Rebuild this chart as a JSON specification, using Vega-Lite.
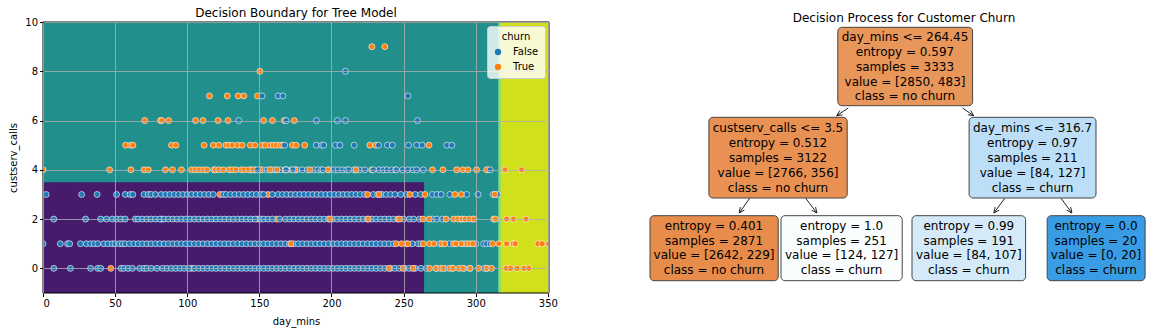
{
"$schema": "https://vega.github.io/schema/vega-lite/v6.json",
"padding": {"left": 8, "top": 7, "right": 0, "bottom": 6},
"background": "white",
"spacing": 91,
"resolve": {"legend": {"color": "independent"}, "scale": {"color": "independent", "x": "independent", "y": "independent"}},
"config": {
  "font": "DejaVu Sans",
  "view": {"stroke": null},
  "title": {"fontSize": 12, "fontWeight": "normal", "font": "DejaVu Sans", "color": "black", "offset": -3},
  "axis": {"labelFont": "DejaVu Sans", "titleFont": "DejaVu Sans", "labelFontSize": 10, "titleFontSize": 10, "titleFontWeight": "normal", "labelColor": "black", "titleColor": "black", "tickColor": "black", "domain": false, "tickSize": 3.5, "labelPadding": 2, "titlePadding": 8, "gridColor": "#b0b0b0", "gridWidth": 0.8, "gridOpacity": 1},
  "legend": {"titleFontSize": 10, "titleFontWeight": "normal", "titleColor": "black", "labelFontSize": 10, "labelColor": "black"}
},
"datasets": {
  "regions": [
    {"x1": 0, "x2": 315.6, "y1": -1, "y2": 10, "fill": "#21908d"},
    {"x1": 0, "x2": 264.2, "y1": -1, "y2": 3.5, "fill": "#471b6b"},
    {"x1": 315.6, "x2": 316.5, "y1": -1, "y2": 10, "fill": "#3dbc74"},
    {"x1": 316.5, "x2": 317.4, "y1": -1, "y2": 10, "fill": "#7ad151"},
    {"x1": 317.4, "x2": 350.8, "y1": -1, "y2": 10, "fill": "#d0e11c"}
  ],
  "points": [
    {"day_mins":7.5,"custserv_calls":0,"churn":"False"},{"day_mins":19,"custserv_calls":0,"churn":"False"},{"day_mins":33,"custserv_calls":0,"churn":"False"},{"day_mins":38,"custserv_calls":0,"churn":"False"},{"day_mins":40,"custserv_calls":0,"churn":"False"},{"day_mins":47,"custserv_calls":0,"churn":"True"},{"day_mins":103,"custserv_calls":0,"churn":"True"},{"day_mins":54,"custserv_calls":0,"churn":"False"},{"day_mins":56,"custserv_calls":0,"churn":"False"},{"day_mins":59,"custserv_calls":0,"churn":"False"},{"day_mins":62,"custserv_calls":0,"churn":"False"},{"day_mins":67,"custserv_calls":0,"churn":"False"},{"day_mins":70,"custserv_calls":0,"churn":"False"},{"day_mins":72,"custserv_calls":0,"churn":"False"},{"day_mins":75,"custserv_calls":0,"churn":"False"},{"day_mins":79,"custserv_calls":0,"churn":"False"},{"day_mins":83,"custserv_calls":0,"churn":"False"},{"day_mins":86,"custserv_calls":0,"churn":"False"},{"day_mins":89,"custserv_calls":0,"churn":"False"},{"day_mins":92,"custserv_calls":0,"churn":"False"},{"day_mins":95,"custserv_calls":0,"churn":"False"},{"day_mins":98,"custserv_calls":0,"churn":"False"},{"day_mins":101,"custserv_calls":0,"churn":"False"},{"day_mins":105,"custserv_calls":0,"churn":"False"},{"day_mins":108,"custserv_calls":0,"churn":"False"},{"day_mins":111,"custserv_calls":0,"churn":"False"},{"day_mins":114,"custserv_calls":0,"churn":"False"},{"day_mins":117,"custserv_calls":0,"churn":"False"},{"day_mins":120,"custserv_calls":0,"churn":"False"},{"day_mins":123,"custserv_calls":0,"churn":"False"},{"day_mins":126,"custserv_calls":0,"churn":"False"},{"day_mins":129,"custserv_calls":0,"churn":"False"},{"day_mins":132,"custserv_calls":0,"churn":"False"},{"day_mins":135,"custserv_calls":0,"churn":"False"},{"day_mins":138,"custserv_calls":0,"churn":"False"},{"day_mins":141,"custserv_calls":0,"churn":"False"},{"day_mins":144,"custserv_calls":0,"churn":"False"},{"day_mins":147,"custserv_calls":0,"churn":"False"},{"day_mins":150,"custserv_calls":0,"churn":"False"},{"day_mins":153,"custserv_calls":0,"churn":"False"},{"day_mins":156,"custserv_calls":0,"churn":"False"},{"day_mins":159,"custserv_calls":0,"churn":"False"},{"day_mins":162,"custserv_calls":0,"churn":"False"},{"day_mins":165,"custserv_calls":0,"churn":"False"},{"day_mins":168,"custserv_calls":0,"churn":"False"},{"day_mins":171,"custserv_calls":0,"churn":"False"},{"day_mins":174,"custserv_calls":0,"churn":"False"},{"day_mins":177,"custserv_calls":0,"churn":"False"},{"day_mins":180,"custserv_calls":0,"churn":"False"},{"day_mins":183,"custserv_calls":0,"churn":"False"},{"day_mins":186,"custserv_calls":0,"churn":"False"},{"day_mins":189,"custserv_calls":0,"churn":"False"},{"day_mins":192,"custserv_calls":0,"churn":"False"},{"day_mins":195,"custserv_calls":0,"churn":"False"},{"day_mins":198,"custserv_calls":0,"churn":"False"},{"day_mins":201,"custserv_calls":0,"churn":"False"},{"day_mins":204,"custserv_calls":0,"churn":"False"},{"day_mins":207,"custserv_calls":0,"churn":"False"},{"day_mins":210,"custserv_calls":0,"churn":"False"},{"day_mins":213,"custserv_calls":0,"churn":"False"},{"day_mins":216,"custserv_calls":0,"churn":"False"},{"day_mins":219,"custserv_calls":0,"churn":"False"},{"day_mins":222,"custserv_calls":0,"churn":"False"},{"day_mins":225,"custserv_calls":0,"churn":"False"},{"day_mins":228,"custserv_calls":0,"churn":"False"},{"day_mins":231,"custserv_calls":0,"churn":"False"},{"day_mins":234,"custserv_calls":0,"churn":"False"},{"day_mins":237,"custserv_calls":0,"churn":"False"},{"day_mins":241,"custserv_calls":0,"churn":"False"},{"day_mins":244,"custserv_calls":0,"churn":"False"},{"day_mins":247,"custserv_calls":0,"churn":"False"},{"day_mins":251,"custserv_calls":0,"churn":"False"},{"day_mins":254,"custserv_calls":0,"churn":"False"},{"day_mins":258,"custserv_calls":0,"churn":"False"},{"day_mins":262,"custserv_calls":0,"churn":"False"},{"day_mins":266,"custserv_calls":0,"churn":"False"},{"day_mins":273,"custserv_calls":0,"churn":"False"},{"day_mins":279,"custserv_calls":0,"churn":"False"},{"day_mins":284,"custserv_calls":0,"churn":"False"},{"day_mins":292,"custserv_calls":0,"churn":"False"},{"day_mins":296,"custserv_calls":0,"churn":"False"},{"day_mins":306,"custserv_calls":0,"churn":"False"},{"day_mins":308,"custserv_calls":0,"churn":"False"},
    {"day_mins":239.8,"custserv_calls":0,"churn":"True"},{"day_mins":249.6,"custserv_calls":0,"churn":"True"},{"day_mins":256.5,"custserv_calls":0,"churn":"True"},{"day_mins":268,"custserv_calls":0,"churn":"True"},{"day_mins":272.3,"custserv_calls":0,"churn":"True"},{"day_mins":275.8,"custserv_calls":0,"churn":"True"},{"day_mins":277.5,"custserv_calls":0,"churn":"True"},{"day_mins":282,"custserv_calls":0,"churn":"True"},{"day_mins":284.2,"custserv_calls":0,"churn":"True"},{"day_mins":288.4,"custserv_calls":0,"churn":"True"},{"day_mins":291,"custserv_calls":0,"churn":"True"},{"day_mins":296,"custserv_calls":0,"churn":"True"},{"day_mins":302,"custserv_calls":0,"churn":"True"},{"day_mins":307.5,"custserv_calls":0,"churn":"True"},{"day_mins":311,"custserv_calls":0,"churn":"True"},{"day_mins":321.2,"custserv_calls":0,"churn":"True"},{"day_mins":324.1,"custserv_calls":0,"churn":"True"},{"day_mins":328.6,"custserv_calls":0,"churn":"True"},{"day_mins":333.4,"custserv_calls":0,"churn":"True"},{"day_mins":336.8,"custserv_calls":0,"churn":"True"},
    {"day_mins":0,"custserv_calls":1,"churn":"False"},{"day_mins":12,"custserv_calls":1,"churn":"False"},{"day_mins":17,"custserv_calls":1,"churn":"False"},{"day_mins":18.5,"custserv_calls":1,"churn":"False"},{"day_mins":26,"custserv_calls":1,"churn":"False"},{"day_mins":30,"custserv_calls":1,"churn":"False"},{"day_mins":33,"custserv_calls":1,"churn":"False"},{"day_mins":35.5,"custserv_calls":1,"churn":"False"},{"day_mins":38,"custserv_calls":1,"churn":"False"},{"day_mins":42,"custserv_calls":1,"churn":"False"},{"day_mins":45,"custserv_calls":1,"churn":"False"},{"day_mins":48,"custserv_calls":1,"churn":"False"},{"day_mins":50,"custserv_calls":1,"churn":"False"},{"day_mins":53,"custserv_calls":1,"churn":"False"},{"day_mins":55,"custserv_calls":1,"churn":"False"},{"day_mins":57,"custserv_calls":1,"churn":"False"},{"day_mins":60,"custserv_calls":1,"churn":"False"},{"day_mins":63,"custserv_calls":1,"churn":"False"},{"day_mins":66,"custserv_calls":1,"churn":"False"},{"day_mins":69,"custserv_calls":1,"churn":"False"},{"day_mins":72,"custserv_calls":1,"churn":"False"},{"day_mins":75,"custserv_calls":1,"churn":"False"},{"day_mins":78,"custserv_calls":1,"churn":"False"},{"day_mins":81,"custserv_calls":1,"churn":"False"},{"day_mins":84,"custserv_calls":1,"churn":"False"},{"day_mins":87,"custserv_calls":1,"churn":"False"},{"day_mins":90,"custserv_calls":1,"churn":"False"},{"day_mins":93,"custserv_calls":1,"churn":"False"},{"day_mins":96,"custserv_calls":1,"churn":"False"},{"day_mins":99,"custserv_calls":1,"churn":"False"},{"day_mins":102,"custserv_calls":1,"churn":"False"},{"day_mins":105,"custserv_calls":1,"churn":"False"},{"day_mins":108,"custserv_calls":1,"churn":"False"},{"day_mins":111,"custserv_calls":1,"churn":"False"},{"day_mins":114,"custserv_calls":1,"churn":"False"},{"day_mins":117,"custserv_calls":1,"churn":"False"},{"day_mins":120,"custserv_calls":1,"churn":"False"},{"day_mins":123,"custserv_calls":1,"churn":"False"},{"day_mins":126,"custserv_calls":1,"churn":"False"},{"day_mins":129,"custserv_calls":1,"churn":"False"},{"day_mins":132,"custserv_calls":1,"churn":"False"},{"day_mins":135,"custserv_calls":1,"churn":"False"},{"day_mins":138,"custserv_calls":1,"churn":"False"},{"day_mins":141,"custserv_calls":1,"churn":"False"},{"day_mins":144,"custserv_calls":1,"churn":"False"},{"day_mins":147,"custserv_calls":1,"churn":"False"},{"day_mins":150,"custserv_calls":1,"churn":"False"},{"day_mins":153,"custserv_calls":1,"churn":"False"},{"day_mins":156,"custserv_calls":1,"churn":"False"},{"day_mins":159,"custserv_calls":1,"churn":"False"},{"day_mins":162,"custserv_calls":1,"churn":"False"},{"day_mins":165,"custserv_calls":1,"churn":"False"},{"day_mins":168,"custserv_calls":1,"churn":"False"},{"day_mins":171,"custserv_calls":1,"churn":"False"},{"day_mins":174,"custserv_calls":1,"churn":"False"},{"day_mins":177,"custserv_calls":1,"churn":"False"},{"day_mins":180,"custserv_calls":1,"churn":"False"},{"day_mins":183,"custserv_calls":1,"churn":"False"},{"day_mins":186,"custserv_calls":1,"churn":"False"},{"day_mins":189,"custserv_calls":1,"churn":"False"},{"day_mins":192,"custserv_calls":1,"churn":"False"},{"day_mins":195,"custserv_calls":1,"churn":"False"},{"day_mins":198,"custserv_calls":1,"churn":"False"},{"day_mins":201,"custserv_calls":1,"churn":"False"},{"day_mins":204,"custserv_calls":1,"churn":"False"},{"day_mins":207,"custserv_calls":1,"churn":"False"},{"day_mins":210,"custserv_calls":1,"churn":"False"},{"day_mins":213,"custserv_calls":1,"churn":"False"},{"day_mins":216,"custserv_calls":1,"churn":"False"},{"day_mins":219,"custserv_calls":1,"churn":"False"},{"day_mins":222,"custserv_calls":1,"churn":"False"},{"day_mins":225,"custserv_calls":1,"churn":"False"},{"day_mins":228,"custserv_calls":1,"churn":"False"},{"day_mins":231,"custserv_calls":1,"churn":"False"},{"day_mins":234,"custserv_calls":1,"churn":"False"},{"day_mins":237,"custserv_calls":1,"churn":"False"},{"day_mins":240,"custserv_calls":1,"churn":"False"},{"day_mins":243,"custserv_calls":1,"churn":"False"},{"day_mins":252,"custserv_calls":1,"churn":"False"},{"day_mins":256,"custserv_calls":1,"churn":"False"},{"day_mins":260,"custserv_calls":1,"churn":"False"},{"day_mins":262,"custserv_calls":1,"churn":"False"},{"day_mins":275,"custserv_calls":1,"churn":"False"},{"day_mins":282,"custserv_calls":1,"churn":"False"},{"day_mins":292,"custserv_calls":1,"churn":"False"},{"day_mins":300,"custserv_calls":1,"churn":"False"},{"day_mins":305.5,"custserv_calls":1,"churn":"False"},{"day_mins":307.5,"custserv_calls":1,"churn":"False"},{"day_mins":310,"custserv_calls":1,"churn":"False"},
    {"day_mins":172,"custserv_calls":1,"churn":"True"},{"day_mins":245,"custserv_calls":1,"churn":"True"},{"day_mins":248.6,"custserv_calls":1,"churn":"True"},{"day_mins":253,"custserv_calls":1,"churn":"True"},{"day_mins":263.6,"custserv_calls":1,"churn":"True"},{"day_mins":268,"custserv_calls":1,"churn":"True"},{"day_mins":271,"custserv_calls":1,"churn":"True"},{"day_mins":276.4,"custserv_calls":1,"churn":"True"},{"day_mins":278.5,"custserv_calls":1,"churn":"True"},{"day_mins":284.7,"custserv_calls":1,"churn":"True"},{"day_mins":286.4,"custserv_calls":1,"churn":"True"},{"day_mins":290,"custserv_calls":1,"churn":"True"},{"day_mins":294,"custserv_calls":1,"churn":"True"},{"day_mins":296,"custserv_calls":1,"churn":"True"},{"day_mins":298,"custserv_calls":1,"churn":"True"},{"day_mins":311.7,"custserv_calls":1,"churn":"True"},{"day_mins":316,"custserv_calls":1,"churn":"True"},{"day_mins":321.4,"custserv_calls":1,"churn":"True"},{"day_mins":326,"custserv_calls":1,"churn":"True"},{"day_mins":327.4,"custserv_calls":1,"churn":"True"},{"day_mins":343,"custserv_calls":1,"churn":"True"},{"day_mins":346,"custserv_calls":1,"churn":"True"},{"day_mins":350.5,"custserv_calls":1,"churn":"True"},
    {"day_mins":82.3,"custserv_calls":2,"churn":"True"},{"day_mins":149,"custserv_calls":2,"churn":"True"},{"day_mins":162,"custserv_calls":2,"churn":"True"},
    {"day_mins":7.5,"custserv_calls":2,"churn":"False"},{"day_mins":29.5,"custserv_calls":2,"churn":"False"},{"day_mins":40,"custserv_calls":2,"churn":"False"},{"day_mins":44,"custserv_calls":2,"churn":"False"},{"day_mins":48,"custserv_calls":2,"churn":"False"},{"day_mins":51,"custserv_calls":2,"churn":"False"},{"day_mins":54,"custserv_calls":2,"churn":"False"},{"day_mins":57,"custserv_calls":2,"churn":"False"},{"day_mins":64,"custserv_calls":2,"churn":"False"},{"day_mins":66,"custserv_calls":2,"churn":"False"},{"day_mins":69,"custserv_calls":2,"churn":"False"},{"day_mins":72,"custserv_calls":2,"churn":"False"},{"day_mins":75,"custserv_calls":2,"churn":"False"},{"day_mins":78,"custserv_calls":2,"churn":"False"},{"day_mins":81,"custserv_calls":2,"churn":"False"},{"day_mins":84,"custserv_calls":2,"churn":"False"},{"day_mins":87,"custserv_calls":2,"churn":"False"},{"day_mins":90,"custserv_calls":2,"churn":"False"},{"day_mins":93,"custserv_calls":2,"churn":"False"},{"day_mins":96,"custserv_calls":2,"churn":"False"},{"day_mins":99,"custserv_calls":2,"churn":"False"},{"day_mins":102,"custserv_calls":2,"churn":"False"},{"day_mins":105,"custserv_calls":2,"churn":"False"},{"day_mins":108,"custserv_calls":2,"churn":"False"},{"day_mins":111,"custserv_calls":2,"churn":"False"},{"day_mins":114,"custserv_calls":2,"churn":"False"},{"day_mins":117,"custserv_calls":2,"churn":"False"},{"day_mins":120,"custserv_calls":2,"churn":"False"},{"day_mins":123,"custserv_calls":2,"churn":"False"},{"day_mins":126,"custserv_calls":2,"churn":"False"},{"day_mins":129,"custserv_calls":2,"churn":"False"},{"day_mins":132,"custserv_calls":2,"churn":"False"},{"day_mins":135,"custserv_calls":2,"churn":"False"},{"day_mins":138,"custserv_calls":2,"churn":"False"},{"day_mins":141,"custserv_calls":2,"churn":"False"},{"day_mins":144,"custserv_calls":2,"churn":"False"},{"day_mins":147,"custserv_calls":2,"churn":"False"},{"day_mins":151,"custserv_calls":2,"churn":"False"},{"day_mins":153,"custserv_calls":2,"churn":"False"},{"day_mins":156,"custserv_calls":2,"churn":"False"},{"day_mins":159,"custserv_calls":2,"churn":"False"},{"day_mins":164,"custserv_calls":2,"churn":"False"},{"day_mins":168,"custserv_calls":2,"churn":"False"},{"day_mins":171,"custserv_calls":2,"churn":"False"},{"day_mins":174,"custserv_calls":2,"churn":"False"},{"day_mins":177,"custserv_calls":2,"churn":"False"},{"day_mins":180,"custserv_calls":2,"churn":"False"},{"day_mins":183,"custserv_calls":2,"churn":"False"},{"day_mins":186,"custserv_calls":2,"churn":"False"},{"day_mins":189,"custserv_calls":2,"churn":"False"},{"day_mins":192,"custserv_calls":2,"churn":"False"},{"day_mins":195,"custserv_calls":2,"churn":"False"},{"day_mins":198,"custserv_calls":2,"churn":"False"},{"day_mins":201,"custserv_calls":2,"churn":"False"},{"day_mins":204,"custserv_calls":2,"churn":"False"},{"day_mins":207,"custserv_calls":2,"churn":"False"},{"day_mins":210,"custserv_calls":2,"churn":"False"},{"day_mins":213,"custserv_calls":2,"churn":"False"},{"day_mins":216,"custserv_calls":2,"churn":"False"},{"day_mins":219,"custserv_calls":2,"churn":"False"},{"day_mins":222,"custserv_calls":2,"churn":"False"},{"day_mins":225,"custserv_calls":2,"churn":"False"},{"day_mins":228,"custserv_calls":2,"churn":"False"},{"day_mins":231,"custserv_calls":2,"churn":"False"},{"day_mins":234,"custserv_calls":2,"churn":"False"},{"day_mins":237,"custserv_calls":2,"churn":"False"},{"day_mins":240,"custserv_calls":2,"churn":"False"},{"day_mins":243,"custserv_calls":2,"churn":"False"},{"day_mins":250,"custserv_calls":2,"churn":"False"},{"day_mins":254,"custserv_calls":2,"churn":"False"},{"day_mins":257,"custserv_calls":2,"churn":"False"},{"day_mins":261,"custserv_calls":2,"churn":"False"},{"day_mins":270,"custserv_calls":2,"churn":"False"},{"day_mins":273,"custserv_calls":2,"churn":"False"},{"day_mins":277,"custserv_calls":2,"churn":"False"},{"day_mins":290,"custserv_calls":2,"churn":"False"},{"day_mins":298,"custserv_calls":2,"churn":"False"},
    {"day_mins":199,"custserv_calls":2,"churn":"True"},{"day_mins":225.5,"custserv_calls":2,"churn":"True"},{"day_mins":246,"custserv_calls":2,"churn":"True"},{"day_mins":247.2,"custserv_calls":2,"churn":"True"},{"day_mins":263.4,"custserv_calls":2,"churn":"True"},{"day_mins":267.8,"custserv_calls":2,"churn":"True"},{"day_mins":279.5,"custserv_calls":2,"churn":"True"},{"day_mins":284.7,"custserv_calls":2,"churn":"True"},{"day_mins":287.7,"custserv_calls":2,"churn":"True"},{"day_mins":290.5,"custserv_calls":2,"churn":"True"},{"day_mins":292.6,"custserv_calls":2,"churn":"True"},{"day_mins":295.6,"custserv_calls":2,"churn":"True"},{"day_mins":298.8,"custserv_calls":2,"churn":"True"},{"day_mins":312.5,"custserv_calls":2,"churn":"True"},{"day_mins":313.7,"custserv_calls":2,"churn":"True"},{"day_mins":321.4,"custserv_calls":2,"churn":"True"},{"day_mins":326.1,"custserv_calls":2,"churn":"True"},{"day_mins":334.8,"custserv_calls":2,"churn":"True"},
    {"day_mins":122.7,"custserv_calls":3,"churn":"True"},{"day_mins":156,"custserv_calls":3,"churn":"True"},
    {"day_mins":2.2,"custserv_calls":3,"churn":"False"},{"day_mins":26.8,"custserv_calls":3,"churn":"False"},{"day_mins":37.5,"custserv_calls":3,"churn":"False"},{"day_mins":51,"custserv_calls":3,"churn":"False"},{"day_mins":57,"custserv_calls":3,"churn":"False"},{"day_mins":60.5,"custserv_calls":3,"churn":"False"},{"day_mins":62.3,"custserv_calls":3,"churn":"False"},{"day_mins":70,"custserv_calls":3,"churn":"False"},{"day_mins":73,"custserv_calls":3,"churn":"False"},{"day_mins":75,"custserv_calls":3,"churn":"False"},{"day_mins":78,"custserv_calls":3,"churn":"False"},{"day_mins":82,"custserv_calls":3,"churn":"False"},{"day_mins":85,"custserv_calls":3,"churn":"False"},{"day_mins":88,"custserv_calls":3,"churn":"False"},{"day_mins":91,"custserv_calls":3,"churn":"False"},{"day_mins":94,"custserv_calls":3,"churn":"False"},{"day_mins":97,"custserv_calls":3,"churn":"False"},{"day_mins":100,"custserv_calls":3,"churn":"False"},{"day_mins":103,"custserv_calls":3,"churn":"False"},{"day_mins":106,"custserv_calls":3,"churn":"False"},{"day_mins":109,"custserv_calls":3,"churn":"False"},{"day_mins":112,"custserv_calls":3,"churn":"False"},{"day_mins":115,"custserv_calls":3,"churn":"False"},{"day_mins":118,"custserv_calls":3,"churn":"False"},{"day_mins":125,"custserv_calls":3,"churn":"False"},{"day_mins":127,"custserv_calls":3,"churn":"False"},{"day_mins":130,"custserv_calls":3,"churn":"False"},{"day_mins":133,"custserv_calls":3,"churn":"False"},{"day_mins":136,"custserv_calls":3,"churn":"False"},{"day_mins":139,"custserv_calls":3,"churn":"False"},{"day_mins":142,"custserv_calls":3,"churn":"False"},{"day_mins":145,"custserv_calls":3,"churn":"False"},{"day_mins":148,"custserv_calls":3,"churn":"False"},{"day_mins":151,"custserv_calls":3,"churn":"False"},{"day_mins":153,"custserv_calls":3,"churn":"False"},{"day_mins":159,"custserv_calls":3,"churn":"False"},{"day_mins":163,"custserv_calls":3,"churn":"False"},{"day_mins":166,"custserv_calls":3,"churn":"False"},{"day_mins":169,"custserv_calls":3,"churn":"False"},{"day_mins":172,"custserv_calls":3,"churn":"False"},{"day_mins":175,"custserv_calls":3,"churn":"False"},{"day_mins":178,"custserv_calls":3,"churn":"False"},{"day_mins":181,"custserv_calls":3,"churn":"False"},{"day_mins":184,"custserv_calls":3,"churn":"False"},{"day_mins":187,"custserv_calls":3,"churn":"False"},{"day_mins":190,"custserv_calls":3,"churn":"False"},{"day_mins":193,"custserv_calls":3,"churn":"False"},{"day_mins":196,"custserv_calls":3,"churn":"False"},{"day_mins":199,"custserv_calls":3,"churn":"False"},{"day_mins":202,"custserv_calls":3,"churn":"False"},{"day_mins":205,"custserv_calls":3,"churn":"False"},{"day_mins":208,"custserv_calls":3,"churn":"False"},{"day_mins":211,"custserv_calls":3,"churn":"False"},{"day_mins":214,"custserv_calls":3,"churn":"False"},{"day_mins":217,"custserv_calls":3,"churn":"False"},{"day_mins":220,"custserv_calls":3,"churn":"False"},{"day_mins":223,"custserv_calls":3,"churn":"False"},{"day_mins":229,"custserv_calls":3,"churn":"False"},{"day_mins":232,"custserv_calls":3,"churn":"False"},{"day_mins":235,"custserv_calls":3,"churn":"False"},{"day_mins":238,"custserv_calls":3,"churn":"False"},{"day_mins":241,"custserv_calls":3,"churn":"False"},{"day_mins":244,"custserv_calls":3,"churn":"False"},{"day_mins":248,"custserv_calls":3,"churn":"False"},{"day_mins":252,"custserv_calls":3,"churn":"False"},{"day_mins":258,"custserv_calls":3,"churn":"False"},{"day_mins":262,"custserv_calls":3,"churn":"False"},{"day_mins":270,"custserv_calls":3,"churn":"False"},{"day_mins":273,"custserv_calls":3,"churn":"False"},{"day_mins":276,"custserv_calls":3,"churn":"False"},{"day_mins":282,"custserv_calls":3,"churn":"False"},{"day_mins":293.7,"custserv_calls":3,"churn":"False"},{"day_mins":301.6,"custserv_calls":3,"churn":"False"},{"day_mins":312,"custserv_calls":3,"churn":"False"},{"day_mins":315,"custserv_calls":3,"churn":"False"},
    {"day_mins":225,"custserv_calls":3,"churn":"True"},{"day_mins":233,"custserv_calls":3,"churn":"True"},{"day_mins":254.4,"custserv_calls":3,"churn":"True"},{"day_mins":264.8,"custserv_calls":3,"churn":"True"},{"day_mins":285.6,"custserv_calls":3,"churn":"True"},{"day_mins":290,"custserv_calls":3,"churn":"True"},{"day_mins":313.3,"custserv_calls":3,"churn":"True"},
    {"day_mins":143.7,"custserv_calls":4,"churn":"False"},{"day_mins":147.2,"custserv_calls":4,"churn":"False"},{"day_mins":152.4,"custserv_calls":4,"churn":"False"},{"day_mins":155.6,"custserv_calls":4,"churn":"False"},{"day_mins":158.6,"custserv_calls":4,"churn":"False"},{"day_mins":161,"custserv_calls":4,"churn":"False"},{"day_mins":164.8,"custserv_calls":4,"churn":"False"},{"day_mins":172.2,"custserv_calls":4,"churn":"False"},{"day_mins":176,"custserv_calls":4,"churn":"False"},{"day_mins":179.7,"custserv_calls":4,"churn":"False"},{"day_mins":183.4,"custserv_calls":4,"churn":"False"},{"day_mins":187.9,"custserv_calls":4,"churn":"False"},{"day_mins":190.5,"custserv_calls":4,"churn":"False"},{"day_mins":193,"custserv_calls":4,"churn":"False"},{"day_mins":198.3,"custserv_calls":4,"churn":"False"},{"day_mins":202,"custserv_calls":4,"churn":"False"},{"day_mins":204.6,"custserv_calls":4,"churn":"False"},{"day_mins":207.8,"custserv_calls":4,"churn":"False"},{"day_mins":210.5,"custserv_calls":4,"churn":"False"},{"day_mins":215.7,"custserv_calls":4,"churn":"False"},{"day_mins":219.4,"custserv_calls":4,"churn":"False"},{"day_mins":223.1,"custserv_calls":4,"churn":"False"},{"day_mins":233,"custserv_calls":4,"churn":"False"},{"day_mins":236,"custserv_calls":4,"churn":"False"},{"day_mins":238.5,"custserv_calls":4,"churn":"False"},{"day_mins":241.7,"custserv_calls":4,"churn":"False"},{"day_mins":244.5,"custserv_calls":4,"churn":"False"},{"day_mins":249.2,"custserv_calls":4,"churn":"False"},{"day_mins":252.9,"custserv_calls":4,"churn":"False"},{"day_mins":256.6,"custserv_calls":4,"churn":"False"},{"day_mins":259,"custserv_calls":4,"churn":"False"},{"day_mins":263.6,"custserv_calls":4,"churn":"False"},{"day_mins":308.5,"custserv_calls":4,"churn":"False"},
    {"day_mins":0,"custserv_calls":4,"churn":"True"},{"day_mins":46.2,"custserv_calls":4,"churn":"True"},{"day_mins":61,"custserv_calls":4,"churn":"True"},{"day_mins":70,"custserv_calls":4,"churn":"True"},{"day_mins":73,"custserv_calls":4,"churn":"True"},{"day_mins":84.9,"custserv_calls":4,"churn":"True"},{"day_mins":89.8,"custserv_calls":4,"churn":"True"},{"day_mins":96,"custserv_calls":4,"churn":"True"},{"day_mins":103,"custserv_calls":4,"churn":"True"},{"day_mins":105.7,"custserv_calls":4,"churn":"True"},{"day_mins":108.5,"custserv_calls":4,"churn":"True"},{"day_mins":111.4,"custserv_calls":4,"churn":"True"},{"day_mins":113.7,"custserv_calls":4,"churn":"True"},{"day_mins":118.4,"custserv_calls":4,"churn":"True"},{"day_mins":119.6,"custserv_calls":4,"churn":"True"},{"day_mins":121.9,"custserv_calls":4,"churn":"True"},{"day_mins":125,"custserv_calls":4,"churn":"True"},{"day_mins":129,"custserv_calls":4,"churn":"True"},{"day_mins":131.3,"custserv_calls":4,"churn":"True"},{"day_mins":133.8,"custserv_calls":4,"churn":"True"},{"day_mins":137.5,"custserv_calls":4,"churn":"True"},{"day_mins":139.5,"custserv_calls":4,"churn":"True"},{"day_mins":142.5,"custserv_calls":4,"churn":"True"},{"day_mins":145.5,"custserv_calls":4,"churn":"True"},{"day_mins":150.6,"custserv_calls":4,"churn":"True"},{"day_mins":157.4,"custserv_calls":4,"churn":"True"},{"day_mins":162.3,"custserv_calls":4,"churn":"True"},{"day_mins":167.8,"custserv_calls":4,"churn":"True"},{"day_mins":169,"custserv_calls":4,"churn":"True"},{"day_mins":174.7,"custserv_calls":4,"churn":"True"},{"day_mins":185,"custserv_calls":4,"churn":"True"},{"day_mins":197.6,"custserv_calls":4,"churn":"True"},{"day_mins":217,"custserv_calls":4,"churn":"True"},{"day_mins":227.9,"custserv_calls":4,"churn":"True"},{"day_mins":270,"custserv_calls":4,"churn":"True"},{"day_mins":277.3,"custserv_calls":4,"churn":"True"},{"day_mins":286.8,"custserv_calls":4,"churn":"True"},{"day_mins":291,"custserv_calls":4,"churn":"True"},{"day_mins":294.6,"custserv_calls":4,"churn":"True"},{"day_mins":300.6,"custserv_calls":4,"churn":"True"},{"day_mins":307.6,"custserv_calls":4,"churn":"True"},{"day_mins":320.3,"custserv_calls":4,"churn":"True"},{"day_mins":331.8,"custserv_calls":4,"churn":"True"},
    {"day_mins":148.7,"custserv_calls":4,"churn":"False"},{"day_mins":168.5,"custserv_calls":4,"churn":"False"},{"day_mins":173.3,"custserv_calls":4,"churn":"False"},{"day_mins":194.1,"custserv_calls":4,"churn":"False"},{"day_mins":212,"custserv_calls":4,"churn":"False"},{"day_mins":229,"custserv_calls":4,"churn":"False"},{"day_mins":245,"custserv_calls":4,"churn":"False"},{"day_mins":310,"custserv_calls":4,"churn":"False"},
    {"day_mins":57.3,"custserv_calls":5,"churn":"True"},{"day_mins":60.8,"custserv_calls":5,"churn":"True"},{"day_mins":62.3,"custserv_calls":5,"churn":"True"},{"day_mins":89.1,"custserv_calls":5,"churn":"True"},{"day_mins":92.1,"custserv_calls":5,"churn":"True"},{"day_mins":111.7,"custserv_calls":5,"churn":"True"},{"day_mins":118.1,"custserv_calls":5,"churn":"True"},{"day_mins":121.9,"custserv_calls":5,"churn":"True"},{"day_mins":126.8,"custserv_calls":5,"churn":"True"},{"day_mins":128.8,"custserv_calls":5,"churn":"True"},{"day_mins":131.3,"custserv_calls":5,"churn":"True"},{"day_mins":135,"custserv_calls":5,"churn":"True"},{"day_mins":138,"custserv_calls":5,"churn":"True"},{"day_mins":143.7,"custserv_calls":5,"churn":"True"},{"day_mins":146.9,"custserv_calls":5,"churn":"True"},{"day_mins":151.9,"custserv_calls":5,"churn":"True"},{"day_mins":154.1,"custserv_calls":5,"churn":"True"},{"day_mins":157.6,"custserv_calls":5,"churn":"True"},{"day_mins":159.8,"custserv_calls":5,"churn":"True"},{"day_mins":161.8,"custserv_calls":5,"churn":"True"},{"day_mins":164.3,"custserv_calls":5,"churn":"True"},{"day_mins":166,"custserv_calls":5,"churn":"True"},{"day_mins":173,"custserv_calls":5,"churn":"True"},{"day_mins":175.5,"custserv_calls":5,"churn":"True"},{"day_mins":181.4,"custserv_calls":5,"churn":"True"},{"day_mins":226.6,"custserv_calls":5,"churn":"True"},{"day_mins":230.6,"custserv_calls":5,"churn":"True"},{"day_mins":267.6,"custserv_calls":5,"churn":"True"},
    {"day_mins":167.5,"custserv_calls":5,"churn":"False"},{"day_mins":189.4,"custserv_calls":5,"churn":"False"},{"day_mins":193.3,"custserv_calls":5,"churn":"False"},{"day_mins":194.6,"custserv_calls":5,"churn":"False"},{"day_mins":202.8,"custserv_calls":5,"churn":"False"},{"day_mins":205.8,"custserv_calls":5,"churn":"False"},{"day_mins":215.7,"custserv_calls":5,"churn":"False"},{"day_mins":232.6,"custserv_calls":5,"churn":"False"},{"day_mins":238.8,"custserv_calls":5,"churn":"False"},{"day_mins":242.2,"custserv_calls":5,"churn":"False"},{"day_mins":253.4,"custserv_calls":5,"churn":"False"},{"day_mins":259.1,"custserv_calls":5,"churn":"False"},{"day_mins":262.8,"custserv_calls":5,"churn":"False"},{"day_mins":280,"custserv_calls":5,"churn":"False"},{"day_mins":283.4,"custserv_calls":5,"churn":"False"},
    {"day_mins":70.5,"custserv_calls":6,"churn":"True"},{"day_mins":81.4,"custserv_calls":6,"churn":"True"},{"day_mins":82.4,"custserv_calls":6,"churn":"True"},{"day_mins":87.1,"custserv_calls":6,"churn":"True"},{"day_mins":105.7,"custserv_calls":6,"churn":"True"},{"day_mins":110.9,"custserv_calls":6,"churn":"True"},{"day_mins":121.4,"custserv_calls":6,"churn":"True"},{"day_mins":128.3,"custserv_calls":6,"churn":"True"},{"day_mins":152.9,"custserv_calls":6,"churn":"True"},{"day_mins":159.1,"custserv_calls":6,"churn":"True"},{"day_mins":167.3,"custserv_calls":6,"churn":"True"},{"day_mins":174.2,"custserv_calls":6,"churn":"True"},
    {"day_mins":135.8,"custserv_calls":6,"churn":"False"},{"day_mins":168.5,"custserv_calls":6,"churn":"False"},{"day_mins":189.6,"custserv_calls":6,"churn":"False"},{"day_mins":204,"custserv_calls":6,"churn":"False"},{"day_mins":209.7,"custserv_calls":6,"churn":"False"},{"day_mins":259.6,"custserv_calls":6,"churn":"False"},
    {"day_mins":115.4,"custserv_calls":7,"churn":"True"},{"day_mins":127.8,"custserv_calls":7,"churn":"True"},{"day_mins":135.3,"custserv_calls":7,"churn":"True"},{"day_mins":139.2,"custserv_calls":7,"churn":"True"},{"day_mins":148.7,"custserv_calls":7,"churn":"True"},
    {"day_mins":151.9,"custserv_calls":7,"churn":"False"},{"day_mins":163,"custserv_calls":7,"churn":"False"},{"day_mins":166.3,"custserv_calls":7,"churn":"False"},{"day_mins":253,"custserv_calls":7,"churn":"False"},
    {"day_mins":150.4,"custserv_calls":8,"churn":"True"},{"day_mins":209.7,"custserv_calls":8,"churn":"False"},
    {"day_mins":228,"custserv_calls":9,"churn":"True"},{"day_mins":237,"custserv_calls":9,"churn":"True"}
  ],
  "nodes": [
    {"x1": 187.8, "x2": 322.6, "y1": 5.3, "y2": 83.7, "fill": "#e9965a"},
    {"x1": 58.9, "x2": 197.2, "y1": 95.3, "y2": 176, "fill": "#e89152"},
    {"x1": 319.1, "x2": 446, "y1": 95.3, "y2": 176, "fill": "#bcdef6"},
    {"x1": 0, "x2": 128.2, "y1": 193.7, "y2": 258.7, "fill": "#e78c4a"},
    {"x1": 131, "x2": 252.2, "y1": 193.7, "y2": 258.7, "fill": "#fafdfe"},
    {"x1": 262, "x2": 375.6, "y1": 193.7, "y2": 258.7, "fill": "#d5eaf9"},
    {"x1": 397.2, "x2": 495.1, "y1": 193.7, "y2": 258.7, "fill": "#399de5"}
  ],
  "lines": [
    {"x": 255, "y": 15.3, "t": "day_mins <= 264.45"},
    {"x": 255, "y": 30.0, "t": "entropy = 0.597"},
    {"x": 255, "y": 44.8, "t": "samples = 3333"},
    {"x": 255, "y": 59.5, "t": "value = [2850, 483]"},
    {"x": 255, "y": 74.3, "t": "class = no churn"},
    {"x": 128, "y": 106.3, "t": "custserv_calls <= 3.5"},
    {"x": 128, "y": 121.1, "t": "entropy = 0.512"},
    {"x": 128, "y": 135.9, "t": "samples = 3122"},
    {"x": 128, "y": 150.7, "t": "value = [2766, 356]"},
    {"x": 128, "y": 165.5, "t": "class = no churn"},
    {"x": 382.5, "y": 106.3, "t": "day_mins <= 316.7"},
    {"x": 382.5, "y": 121.1, "t": "entropy = 0.97"},
    {"x": 382.5, "y": 135.9, "t": "samples = 211"},
    {"x": 382.5, "y": 150.7, "t": "value = [84, 127]"},
    {"x": 382.5, "y": 165.5, "t": "class = churn"},
    {"x": 64, "y": 203.7, "t": "entropy = 0.401"},
    {"x": 64, "y": 218.5, "t": "samples = 2871"},
    {"x": 64, "y": 233.3, "t": "value = [2642, 229]"},
    {"x": 64, "y": 248.1, "t": "class = no churn"},
    {"x": 191.6, "y": 203.7, "t": "entropy = 1.0"},
    {"x": 191.6, "y": 218.5, "t": "samples = 251"},
    {"x": 191.6, "y": 233.3, "t": "value = [124, 127]"},
    {"x": 191.6, "y": 248.1, "t": "class = churn"},
    {"x": 318.8, "y": 203.7, "t": "entropy = 0.99"},
    {"x": 318.8, "y": 218.5, "t": "samples = 191"},
    {"x": 318.8, "y": 233.3, "t": "value = [84, 107]"},
    {"x": 318.8, "y": 248.1, "t": "class = churn"},
    {"x": 446, "y": 203.7, "t": "entropy = 0.0"},
    {"x": 446, "y": 218.5, "t": "samples = 20"},
    {"x": 446, "y": 233.3, "t": "value = [0, 20]"},
    {"x": 446, "y": 248.1, "t": "class = churn"}
  ],
  "arrows": [
    {"x": 198.2, "y": 86, "x2": 186.7, "y2": 93.7},
    {"x": 186.7, "y": 93.7, "x2": 192.6, "y2": 92.8},
    {"x": 186.7, "y": 93.7, "x2": 189.8, "y2": 88.6},
    {"x": 312.5, "y": 86, "x2": 323.7, "y2": 93.7},
    {"x": 323.7, "y": 93.7, "x2": 320.7, "y2": 88.5},
    {"x": 323.7, "y": 93.7, "x2": 317.8, "y2": 92.7},
    {"x": 99.6, "y": 176.3, "x2": 89.2, "y2": 191},
    {"x": 89.2, "y": 191, "x2": 94.4, "y2": 188},
    {"x": 89.2, "y": 191, "x2": 90.3, "y2": 185.1},
    {"x": 155.7, "y": 176.3, "x2": 166.9, "y2": 191},
    {"x": 166.9, "y": 191, "x2": 165.6, "y2": 185.1},
    {"x": 166.9, "y": 191, "x2": 161.6, "y2": 188.2},
    {"x": 354.7, "y": 176.3, "x2": 343.9, "y2": 191},
    {"x": 343.9, "y": 191, "x2": 349.2, "y2": 188.1},
    {"x": 343.9, "y": 191, "x2": 345.1, "y2": 185.1},
    {"x": 411.1, "y": 176.3, "x2": 421.9, "y2": 191},
    {"x": 421.9, "y": 191, "x2": 420.7, "y2": 185.1},
    {"x": 421.9, "y": 191, "x2": 416.6, "y2": 188.1}
  ]
},
"hconcat": [
  {
    "title": "Decision Boundary for Tree Model",
    "width": 506,
    "height": 271,
    "layer": [
      {
        "data": {"name": "regions"},
        "mark": {"type": "rect"},
        "encoding": {
          "x": {"field": "x1", "type": "quantitative", "scale": {"domain": [0, 350.8], "nice": false, "zero": false}, "axis": {"values": [0, 50, 100, 150, 200, 250, 300, 350], "title": "day_mins", "grid": true, "zindex": 1}},
          "x2": {"field": "x2"},
          "y": {"field": "y1", "type": "quantitative", "scale": {"domain": [-1, 10], "nice": false, "zero": false}, "axis": {"values": [0, 2, 4, 6, 8, 10], "title": "custserv_calls", "grid": true, "zindex": 1, "titlePadding": 6}},
          "y2": {"field": "y2"},
          "fill": {"field": "fill", "type": "nominal", "scale": null}
        }
      },
      {
        "data": {"name": "points"},
        "mark": {"type": "point", "filled": true, "shape": "circle", "size": 36, "stroke": "white", "strokeWidth": 0.6, "opacity": 1, "clip": true},
        "encoding": {
          "x": {"field": "day_mins", "type": "quantitative", "axis": {"values": [0, 50, 100, 150, 200, 250, 300, 350], "title": "day_mins", "grid": true, "zindex": 1}},
          "y": {"field": "custserv_calls", "type": "quantitative", "axis": {"values": [0, 2, 4, 6, 8, 10], "title": "custserv_calls", "grid": true, "zindex": 1, "titlePadding": 6}},
          "color": {"field": "churn", "type": "nominal", "scale": {"domain": ["False", "True"], "range": ["#1f77b4", "#ff7f0e"]},
            "legend": {"title": "churn", "orient": "top-right", "offset": 4, "titleAnchor": "middle", "titleAlign": "center", "fillColor": "rgba(255,255,255,0.8)", "strokeColor": "#cccccc", "cornerRadius": 3, "padding": 6, "symbolSize": 40, "symbolStrokeWidth": 0, "rowPadding": 5, "labelOffset": 10, "titlePadding": 5, "zindex": 2}}
        }
      },
      {
        "data": {"values": [{"a": 0, "b": 350.8, "c": -1, "d": 10}]},
        "mark": {"type": "rect", "filled": false, "stroke": "black", "strokeWidth": 1},
        "encoding": {
          "x": {"field": "a", "type": "quantitative"},
          "x2": {"field": "b"},
          "y": {"field": "c", "type": "quantitative"},
          "y2": {"field": "d"}
        }
      }
    ]
  },
  {
    "title": "Decision Process for Customer Churn",
    "width": 508,
    "height": 271,
    "layer": [
      {
        "data": {"name": "nodes"},
        "mark": {"type": "rect", "cornerRadius": 4, "stroke": "#444444", "strokeWidth": 1},
        "encoding": {
          "x": {"field": "x1", "type": "quantitative", "scale": {"domain": [0, 508], "nice": false, "zero": false}, "axis": null},
          "x2": {"field": "x2"},
          "y": {"field": "y1", "type": "quantitative", "scale": {"domain": [0, 271], "nice": false, "zero": false, "reverse": true}, "axis": null},
          "y2": {"field": "y2"},
          "fill": {"field": "fill", "type": "nominal", "scale": null}
        }
      },
      {
        "data": {"name": "lines"},
        "mark": {"type": "text", "fontSize": 12, "font": "DejaVu Sans", "align": "center", "baseline": "middle", "color": "black"},
        "encoding": {
          "x": {"field": "x", "type": "quantitative", "axis": null},
          "y": {"field": "y", "type": "quantitative", "axis": null},
          "text": {"field": "t"}
        }
      },
      {
        "data": {"name": "arrows"},
        "mark": {"type": "rule", "stroke": "#222222", "strokeWidth": 1},
        "encoding": {
          "x": {"field": "x", "type": "quantitative", "axis": null},
          "y": {"field": "y", "type": "quantitative", "axis": null},
          "x2": {"field": "x2"},
          "y2": {"field": "y2"}
        }
      }
    ]
  }
]
}
